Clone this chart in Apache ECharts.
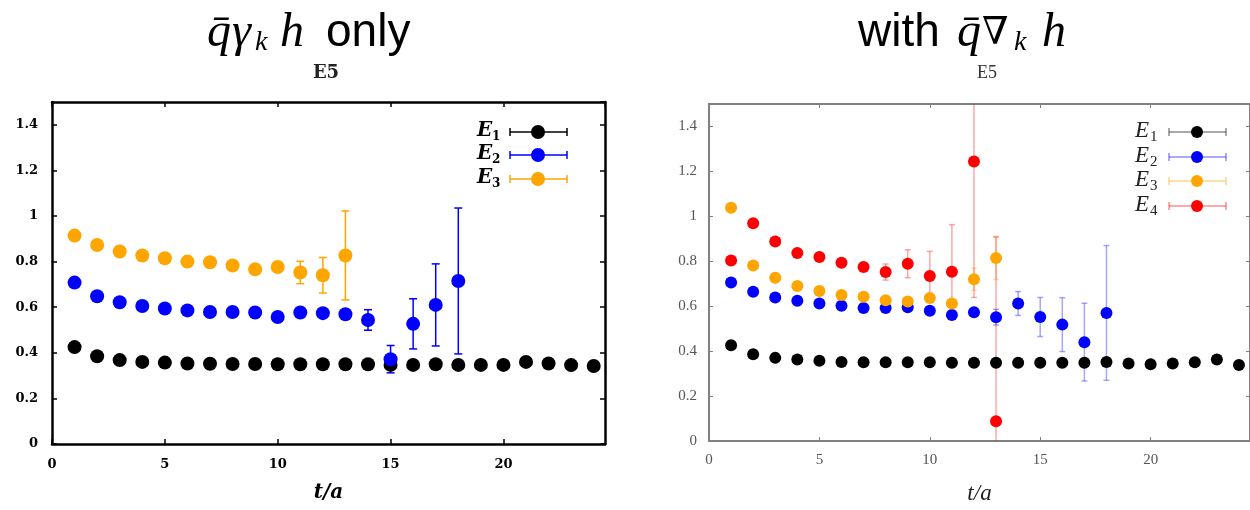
<!DOCTYPE html>
<html>
<head>
<meta charset="utf-8">
<script src="https://cdn.jsdelivr.net/npm/echarts@6/dist/echarts.min.js"></script>
<style>
  body { margin: 0; background: #fff; }
  #chart { width: 1250px; height: 510px; }
</style>
</head>
<body>
<div id="chart"></div>
<script>
// t/a values
var tVals = [1, 2, 3, 4, 5, 6, 7, 8, 9, 10, 11, 12, 13, 14, 15, 16, 17, 18, 19, 20, 21, 22, 23, 24];
var xTicks = [0, 5, 10, 15, 20];
var yTicks = [0, 0.2, 0.4, 0.6, 0.8, 1, 1.2, 1.4];

// left panel: qbar gamma_k h only
var e1Left = [0.425, 0.385, 0.368, 0.36, 0.357, 0.353, 0.352, 0.351, 0.351, 0.35, 0.35, 0.35, 0.35, 0.35, 0.347, 0.347, 0.35, 0.347, 0.347, 0.347, 0.36, 0.353, 0.346, 0.342];
var e2Left = [0.708, 0.648, 0.622, 0.605, 0.594, 0.586, 0.579, 0.579, 0.577, 0.557, 0.577, 0.574, 0.569, 0.544, 0.372, 0.527, 0.61, 0.715];
var e2LeftErr = [0, 0, 0, 0, 0, 0, 0, 0, 0, 0, 0.01, 0.01, 0.012, 0.045, 0.06, 0.11, 0.18, 0.32];
var e3Left = [0.914, 0.873, 0.844, 0.827, 0.815, 0.8, 0.797, 0.783, 0.766, 0.776, 0.752, 0.74, 0.827];
var e3LeftErr = [0, 0, 0, 0, 0, 0, 0, 0, 0, 0.01, 0.049, 0.078, 0.195];

// right panel: with qbar nabla_k h
var e1Right = [0.426, 0.386, 0.37, 0.363, 0.357, 0.352, 0.35, 0.35, 0.35, 0.35, 0.348, 0.348, 0.348, 0.348, 0.348, 0.348, 0.348, 0.352, 0.345, 0.342, 0.345, 0.35, 0.363, 0.338];
var e2Right = [0.705, 0.664, 0.639, 0.624, 0.612, 0.602, 0.592, 0.592, 0.595, 0.58, 0.561, 0.573, 0.551, 0.612, 0.552, 0.518, 0.44, 0.57];
var e2RightErr = [0, 0, 0, 0, 0, 0, 0, 0, 0, 0, 0.01, 0.012, 0.035, 0.053, 0.087, 0.12, 0.173, 0.3];
var e3Right = [1.038, 0.781, 0.727, 0.69, 0.668, 0.65, 0.642, 0.627, 0.621, 0.636, 0.612, 0.72, 0.815];
var e3RightErr = [0, 0, 0, 0, 0, 0, 0, 0, 0, 0.012, 0.015, 0.05, 0.096];
var e4Right = [0.803, 0.969, 0.888, 0.837, 0.819, 0.793, 0.774, 0.752, 0.789, 0.734, 0.753, 1.244, 0.088];
var e4RightErr = [0, 0, 0, 0, 0, 0, 0, 0.036, 0.062, 0.11, 0.21, 0.605, 0.82];

var cBlack = '#000000', cBlue = '#0000ff', cOrange = '#ffa500', cRed = '#ff0000';

function pts(vals) {
    return vals.map(function (v, i) { return [tVals[i], v]; });
}
function errPts(vals, errs) {
    return vals.map(function (v, i) { return [tVals[i], v, errs[i]]; });
}

function errRender(color, cap, opacity) {
    return function (params, api) {
        var e = api.value(2);
        if (!e) return;
        var hi = api.coord([api.value(0), api.value(1) + e]);
        var lo = api.coord([api.value(0), api.value(1) - e]);
        var st = { stroke: color, lineWidth: 1.5, opacity: opacity };
        return {
            type: 'group',
            children: [
                { type: 'line', shape: { x1: hi[0], y1: hi[1], x2: lo[0], y2: lo[1] }, style: st },
                { type: 'line', shape: { x1: hi[0] - cap, y1: hi[1], x2: hi[0] + cap, y2: hi[1] }, style: st },
                { type: 'line', shape: { x1: lo[0] - cap, y1: lo[1], x2: lo[0] + cap, y2: lo[1] }, style: st }
            ]
        };
    };
}

function errSeries(ax, vals, errs, color, cap, opacity) {
    return {
        type: 'custom', xAxisIndex: ax, yAxisIndex: ax, clip: true,
        renderItem: errRender(color, cap, opacity),
        encode: { x: 0, y: 1 },
        data: errPts(vals, errs)
    };
}
function dotSeries(ax, vals, color, size) {
    return {
        type: 'scatter', xAxisIndex: ax, yAxisIndex: ax, symbol: 'circle',
        symbolSize: size, itemStyle: { color: color, opacity: 1 },
        data: pts(vals)
    };
}

// axis looks
var leftLine = { onZero: false, lineStyle: { color: '#000', width: 2.5 } };
var leftTick = { inside: true, length: 5, lineStyle: { color: '#000', width: 1.5 } };
var leftLabel = { fontFamily: 'DejaVu Serif', fontWeight: 'bold', fontSize: 13, color: '#000', margin: 14, showMaxLabel: false };
var rightLine = { onZero: false, lineStyle: { color: '#808080', width: 2 } };
var rightTick = { inside: true, length: 4, lineStyle: { color: '#808080', width: 1 } };
var rightLabel = { fontFamily: 'Liberation Serif', fontSize: 15, color: '#555', margin: 12, showMaxLabel: false };

function xAx(grid, pos, line, tick, label, name, nameStyle, gap) {
    return {
        type: 'value', gridIndex: grid, position: pos, min: xTicks[0], max: 24.5, interval: xTicks[1] - xTicks[0],
        axisLine: line, axisTick: tick, splitLine: { show: false },
        axisLabel: pos === 'bottom' ? label : { show: false },
        name: name, nameLocation: 'middle', nameGap: gap, nameTextStyle: nameStyle
    };
}
function yAx(grid, pos, line, tick, label) {
    return {
        type: 'value', gridIndex: grid, position: pos, min: yTicks[0], max: 1.5, interval: yTicks[1] - yTicks[0],
        axisLine: line, axisTick: tick, splitLine: { show: false },
        axisLabel: pos === 'left' ? label : { show: false }
    };
}

var leftName = { fontFamily: 'DejaVu Serif', fontWeight: 'bold', fontStyle: 'italic', fontSize: 20, color: '#000' };
var rightName = { fontFamily: 'Liberation Serif', fontStyle: 'italic', fontSize: 23, color: '#222' };

// legend + titles drawn as graphics
function txt(s, x, y, font, fill, align) {
    return { type: 'text', x: x, y: y, style: { text: s, font: font, fill: fill || '#000', textAlign: align || 'left', textVerticalAlign: 'middle', align: align || 'left', verticalAlign: 'middle' } };
}
function legendRow(x0, x1, xm, xt, y, color, num, opacity, r, bold) {
    var st = { stroke: color, lineWidth: 1.5, opacity: opacity };
    var f = bold ? 'italic bold 20px "DejaVu Serif"' : 'italic 23px "Liberation Serif"';
    var fs = bold ? 'bold 12px "DejaVu Serif"' : '15px "Liberation Serif"';
    return [
        txt('E', xt, y - 1, f, bold ? '#000' : '#222'),
        txt(num, xt + 15, y + 5, fs, bold ? '#000' : '#222'),
        { type: 'line', shape: { x1: x0, y1: y, x2: x1, y2: y }, style: st },
        { type: 'line', shape: { x1: x0, y1: y - 4, x2: x0, y2: y + 4 }, style: st },
        { type: 'line', shape: { x1: x1, y1: y - 4, x2: x1, y2: y + 4 }, style: st },
        { type: 'circle', shape: { cx: xm, cy: y, r: r }, style: { fill: color } }
    ];
}

var graphics = [];
// left title
graphics.push(txt('q\u0304', 207, 33, 'italic 48px "Liberation Serif"'));
graphics.push(txt('\u03b3', 232, 33, 'italic 48px "Liberation Serif"'));
graphics.push(txt('k', 255, 43, 'italic 28px "Liberation Serif"'));
graphics.push(txt('h', 280, 33, 'italic 48px "Liberation Serif"'));
graphics.push(txt('only', 326, 33, '46px "Liberation Sans"'));
graphics.push(txt('E5', 326, 73, 'bold 18px "DejaVu Serif"', '#222', 'center'));
// right title
graphics.push(txt('with', 858, 33, '46px "Liberation Sans"'));
graphics.push(txt('q\u0304', 957, 33, 'italic 48px "Liberation Serif"'));
graphics.push(txt('\u2207', 982, 34, '38px "DejaVu Serif"'));
graphics.push(txt('k', 1014, 43, 'italic 28px "Liberation Serif"'));
graphics.push(txt('h', 1042, 33, 'italic 48px "Liberation Serif"'));
graphics.push(txt('E5', 987, 73, '18px "Liberation Serif"', '#333', 'center'));
// legends
graphics = graphics
    .concat(legendRow(510, 567, 538, 477, 132, cBlack, '1', 1, 7, true))
    .concat(legendRow(510, 567, 538, 477, 155, cBlue, '2', 1, 7, true))
    .concat(legendRow(510, 567, 538, 477, 179, cOrange, '3', 1, 7, true))
    .concat(legendRow(1169, 1226, 1197, 1135, 132, cBlack, '1', 0.45, 6, false))
    .concat(legendRow(1169, 1226, 1197, 1135, 157, cBlue, '2', 0.45, 6, false))
    .concat(legendRow(1169, 1226, 1197, 1135, 181, cOrange, '3', 0.45, 6, false))
    .concat(legendRow(1169, 1226, 1197, 1135, 206, cRed, '4', 0.45, 6, false));

var myChart = echarts.init(document.getElementById('chart'));
var option = {
    animation: false,
    backgroundColor: '#fff',
    grid: [
        { left: 52, top: 102, width: 553, height: 342 },
        { left: 709, top: 104, width: 555, height: 341 }
    ],
    xAxis: [
        xAx(0, 'bottom', leftLine, leftTick, leftLabel, 't/a', leftName, 39),
        xAx(0, 'top', leftLine, leftTick, leftLabel, '', leftName, 0),
        xAx(1, 'bottom', rightLine, rightTick, rightLabel, 't/a', rightName, 41),
        xAx(1, 'top', rightLine, rightTick, rightLabel, '', rightName, 0)
    ],
    yAxis: [
        yAx(0, 'left', leftLine, leftTick, leftLabel),
        yAx(0, 'right', leftLine, leftTick, leftLabel),
        yAx(1, 'left', rightLine, rightTick, rightLabel),
        yAx(1, 'right', rightLine, rightTick, rightLabel)
    ],
    series: [
        dotSeries(0, e1Left, cBlack, 14),
        errSeries(0, e2Left, e2LeftErr, cBlue, 4, 1),
        dotSeries(0, e2Left, cBlue, 14),
        errSeries(0, e3Left, e3LeftErr, cOrange, 4, 1),
        dotSeries(0, e3Left, cOrange, 14),

        dotSeries(2, e1Right, cBlack, 12),
        errSeries(2, e2Right, e2RightErr, cBlue, 3, 0.35),
        dotSeries(2, e2Right, cBlue, 12),
        errSeries(2, e3Right, e3RightErr, cOrange, 3, 0.35),
        dotSeries(2, e3Right, cOrange, 12),
        errSeries(2, e4Right, e4RightErr, cRed, 3, 0.35),
        dotSeries(2, e4Right, cRed, 12)
    ],
    graphic: graphics
};
myChart.setOption(option);
</script>
</body>
</html>
